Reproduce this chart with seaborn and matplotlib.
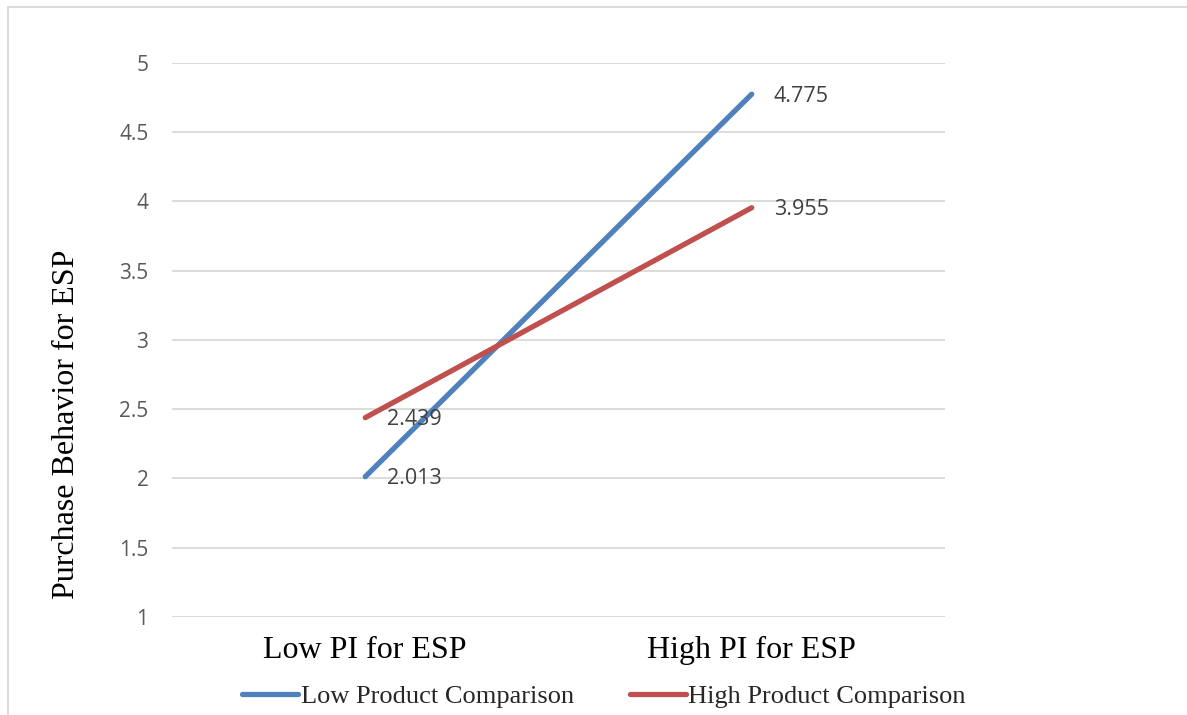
import pandas as pd
import numpy as np
import matplotlib
matplotlib.use("Agg")
import matplotlib.pyplot as plt
import seaborn as sns
from matplotlib.lines import Line2D
from matplotlib.patches import Rectangle

# --- data ---
categories = ["Low PI for ESP", "High PI for ESP"]
series_names = ["Low Product Comparison", "High Product Comparison"]
low_comparison = [2.013, 4.775]
high_comparison = [2.439, 3.955]
y_ticks = [1, 1.5, 2, 2.5, 3, 3.5, 4, 4.5, 5]
colors = {"Low Product Comparison": "#4F81BD", "High Product Comparison": "#C0504D"}

df = pd.DataFrame({
    "pi": categories * 2,
    "series": [series_names[0]] * 2 + [series_names[1]] * 2,
    "value": low_comparison + high_comparison,
})

sns.set_style("white")
plt.rcParams["font.family"] = ["Open Sans", "DejaVu Sans"]

fig = plt.figure(figsize=(11.87, 7.15), dpi=100)
ax = fig.add_axes([0.1449, 0.1371, 0.6512, 0.7748])

sns.lineplot(data=df, x="pi", y="value", hue="series", palette=colors,
             linewidth=3.8, sort=False, legend=False, ax=ax, zorder=3)

# data labels
for name, vals in zip(series_names, [low_comparison, high_comparison]):
    for xi, v in enumerate(vals):
        ax.annotate(f"{v:.3f}", (xi, v), xytext=(16, -1.5), textcoords="offset points",
                    ha="left", va="center", fontsize=15.5, color="#404040", zorder=4)

ax.set_xlim(-0.5, 1.5)
ax.set_ylim(1, 5)
ax.set_yticks(y_ticks)
ax.set_yticklabels([f"{t:g}" for t in y_ticks], fontsize=15, color="#595959")
ax.set_xticks(range(len(categories)))
ax.set_xticklabels(categories, fontsize=23, family=["Liberation Serif"], color="black")
ax.tick_params(axis="y", length=0, pad=17)
ax.tick_params(axis="x", length=0, pad=14)
ax.yaxis.grid(True, color="#D9D9D9", linewidth=1.3)
ax.xaxis.grid(False)
for s in ax.spines.values():
    s.set_visible(False)

ax.set_xlabel("")
ax.set_ylabel("")
fig.text(67 / 1187, 1 - 424 / 715, "Purchase Behavior for ESP", rotation=90,
         ha="center", va="center", fontsize=23, family=["Liberation Serif"], color="black")

handles = [Line2D([0], [0], color=colors[n], linewidth=3.8, solid_capstyle="round")
           for n in series_names]
fig.legend(handles, series_names, loc="center", bbox_to_anchor=(0.509, 0.026), ncol=2,
           frameon=False, handlelength=2.1, handletextpad=0.1, columnspacing=2.15,
           prop={"family": "Liberation Serif", "size": 19})

# outer chart border
fig.patches.append(Rectangle((8 / 1187, -0.01), 1.02, 1 - 7 / 715 + 0.01,
                             transform=fig.transFigure, fill=False,
                             edgecolor="#D9D9D9", linewidth=1.3))

fig.savefig("out.png", dpi=100)
